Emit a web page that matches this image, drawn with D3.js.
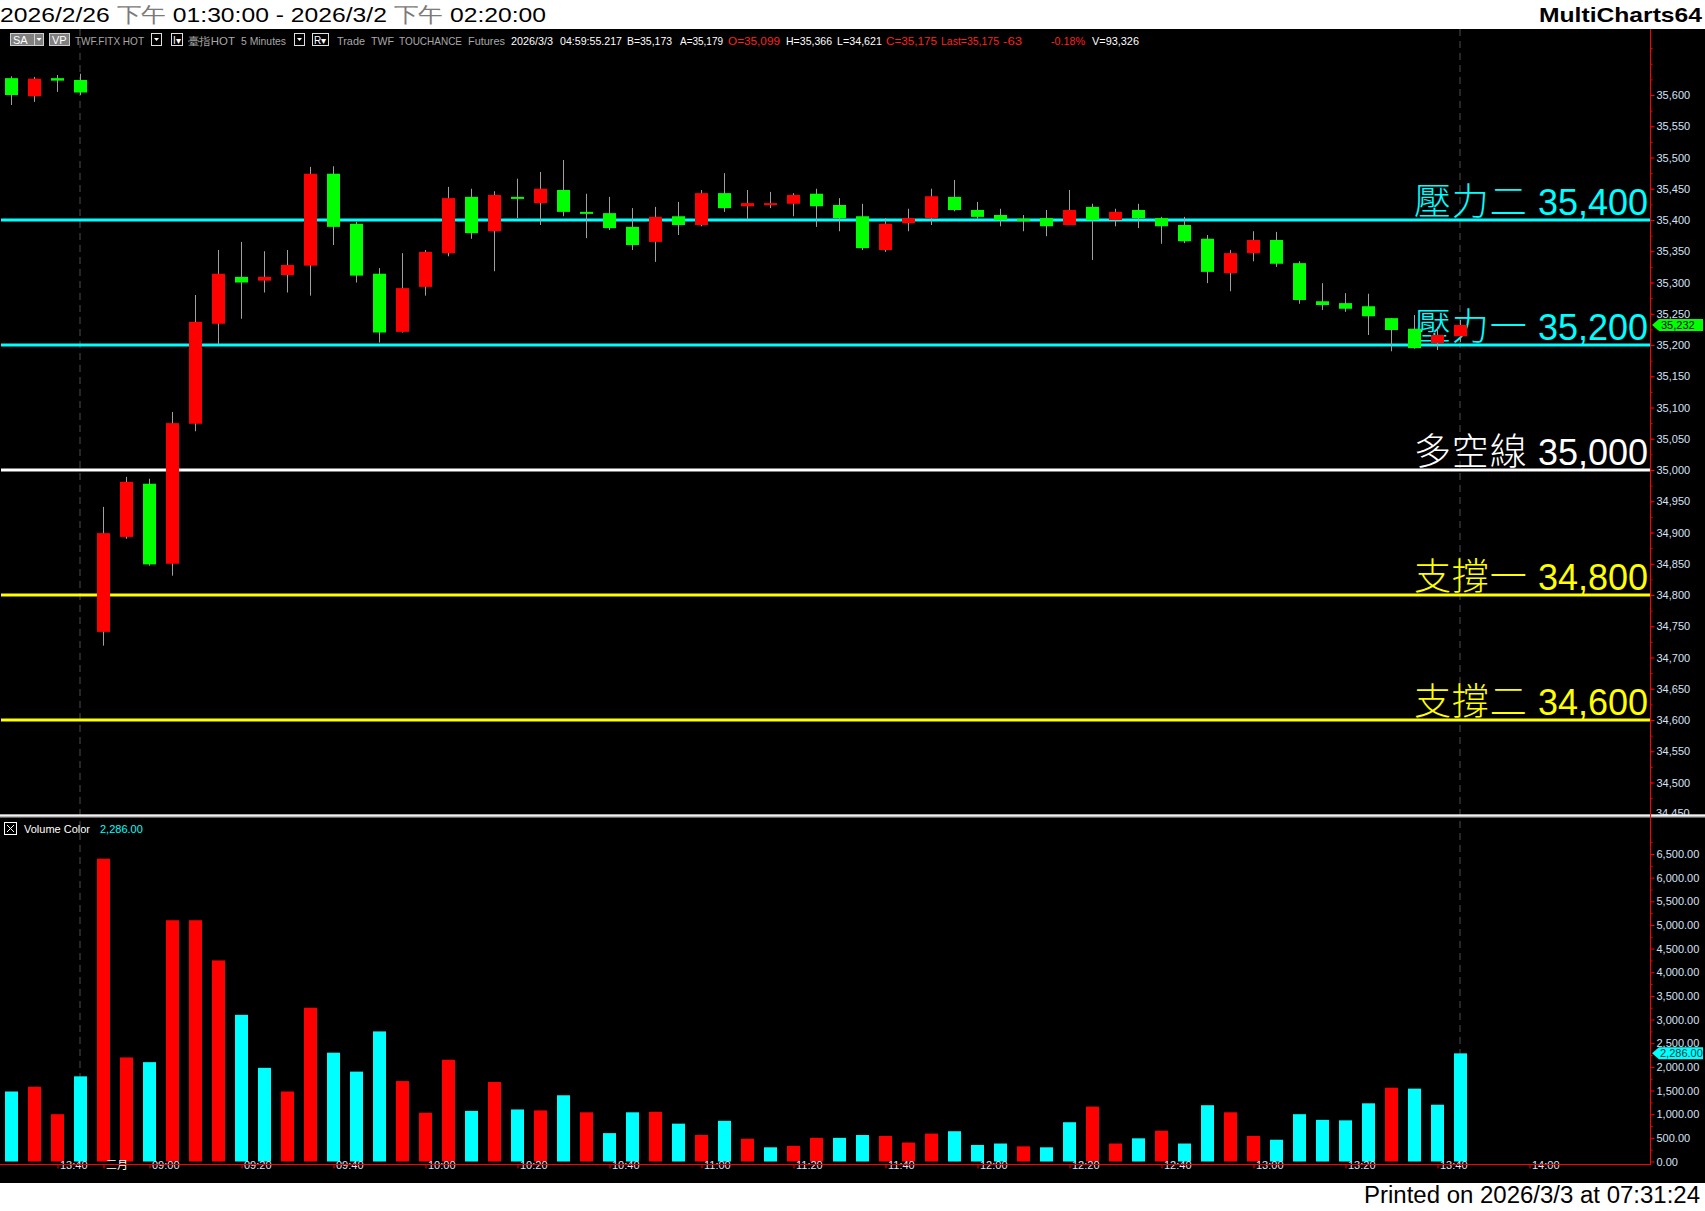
<!DOCTYPE html>
<html><head><meta charset="utf-8">
<script src="https://cdn.jsdelivr.net/npm/d3@7"></script>
<style>
html,body{margin:0;padding:0;background:#fff;}
svg{display:block;}
</style></head>
<body>
<svg id="c" width="1705" height="1211"></svg>
<script>
// ---------------- DATA ----------------
// bar slots: 4 bars of 2026/2/26 session end, then 2026/3/2 day session (5-minute bars, close time)
const firstDayTimes = ["2/26 13:30","2/26 13:35","2/26 13:40","2/26 13:45"];
const secondDayStart = "08:50";   // first bar of 3/2
const slotCount = 72;             // including empty slots to the right edge

const open  = [35627,35598,35627,35624,34741,34893,34978,34850,35074,35234,35309,35303,35312,35327,35474,35394,35314,35221,35293,35347,35437,35382,35437,35427,35448,35413,35411,35389,35365,35406,35392,35443,35422,35424,35426,35442,35424,35406,35352,35395,35403,35437,35416,35408,35402,35403,35392,35421,35400,35416,35403,35392,35370,35315,35347,35368,35331,35270,35267,35262,35243,35226,35203,35214];
const high  = [35630,35629,35632,35634,34941,34989,34986,35093,35280,35352,35365,35350,35352,35485,35486,35397,35323,35347,35352,35453,35450,35446,35466,35477,35496,35442,35437,35419,35421,35429,35448,35475,35448,35445,35443,35450,35435,35426,35403,35418,35450,35464,35429,35418,35408,35416,35448,35426,35418,35426,35405,35405,35376,35352,35382,35381,35334,35299,35283,35282,35243,35248,35229,35240];
const low   = [35584,35589,35605,35600,34719,34890,34847,34831,35062,35201,35242,35284,35284,35279,35360,35300,35204,35220,35279,35342,35370,35318,35403,35392,35406,35371,35384,35352,35333,35376,35390,35413,35400,35419,35406,35389,35382,35352,35349,35382,35392,35414,35402,35390,35382,35374,35392,35336,35390,35387,35362,35363,35299,35286,35334,35325,35266,35256,35253,35216,35190,35194,35192,35205];
const close = [35600,35626,35623,35604,34899,34981,34849,35075,35237,35314,35300,35309,35328,35474,35389,35311,35220,35291,35349,35435,35379,35440,35434,35450,35413,35410,35387,35360,35405,35392,35443,35419,35427,35427,35440,35422,35403,35355,35394,35403,35438,35416,35405,35400,35398,35390,35416,35400,35413,35403,35390,35366,35317,35347,35368,35330,35272,35264,35258,35246,35224,35195,35216,35232];

const volume = [1480,1580,1000,1800,6400,2200,2100,5100,5100,4250,3100,1980,1480,3250,2300,1900,2750,1700,1030,2150,1070,1680,1100,1080,1400,1040,600,1040,1050,800,560,860,480,300,330,500,500,560,540,400,590,640,350,380,320,300,830,1160,380,490,650,380,1190,1040,540,460,1000,880,870,1230,1560,1540,1200,2286];
// volume colour direction as shown (u = red, d = cyan)
const volDir = ["d","u","u","d","u","u","d","u","u","u",
                "d","d","u","u","d","d","d","u","u","u",
                "d","u","d","u","d","u","d","d","u","d",
                "u","d","u","d","u","u","d","d","u","u",
                "u","d","d","d","u","d","d","u","u","d",
                "u","d","d","u","u","d","d","d","d","d",
                "u","d","d","d"];

const lastPrice = 35232;
const lastVolume = 2286;

const levelNames  = ["壓力二","壓力一","多空線","支撐一","支撐二"];
const levelValues = [35400,35200,35000,34800,34600];
const levelColors = ["#00ffff","#00ffff","#ffffff","#ffff00","#ffff00"];

const priceTicks  = d3.range(34500, 35601, 50);
const volumeTicks = d3.range(0, 6501, 500);

const xTickTimes = ["2/26 13:40","3/2 08:50","3/2 09:00","3/2 09:20","3/2 09:40","3/2 10:00","3/2 10:20","3/2 10:40","3/2 11:00","3/2 11:20","3/2 11:40","3/2 12:00","3/2 12:20","3/2 12:40","3/2 13:00","3/2 13:20","3/2 13:40","3/2 14:00"];
const xTickText  = ["13:40","三月","09:00","09:20","09:40","10:00","10:20","10:40","11:00","11:20","11:40","12:00","12:20","12:40","13:00","13:20","13:40","14:00"];
const sessionBreaks = ["2/26 13:45","3/2 13:45"];

const titleParts = [["2026/2/26 ","#000"],["下午","#7a7a7a"],[" 01:30:00 - 2026/3/2 ","#000"],["下午","#7a7a7a"],[" 02:20:00","#000"]];

// build slot time categories
const times = firstDayTimes.slice();
{
  let [h,m] = secondDayStart.split(":").map(Number);
  while (times.length < slotCount) {
    times.push("3/2 " + String(h).padStart(2,"0") + ":" + String(m).padStart(2,"0"));
    m += 5; if (m >= 60) { m -= 60; h++; }
  }
}
const bars = open.map((o,i)=>({t:times[i], o, h:high[i], l:low[i], c:close[i], v:volume[i], vd:volDir[i]}));

// ---------------- LAYOUT ----------------
const W = 1705, H = 1211;
const axisX = 1650.5;
const svg = d3.select("#c");
const FONT = "'Liberation Sans', Arial, sans-serif";
const NARROW = "'Liberation Sans Narrow', 'Liberation Sans', Arial, sans-serif";
const CJK = "'Liberation Sans', 'Noto Sans CJK TC', sans-serif";

svg.append("rect").attr("width",W).attr("height",H).attr("fill","#fff");
svg.append("rect").attr("x",0).attr("y",29).attr("width",W).attr("height",1183-29).attr("fill","#000");

// scales
const x = d3.scalePoint().domain(times).range([11.5, 11.5 + 23*(slotCount-1)]);
const y = d3.scaleLinear().domain([34450, 35650]).range([813.75, 63.75]);
const yv = d3.scaleLinear().domain([0, 6500]).range([1161.5, 854]);

// ---------------- HEADER ----------------
const title = svg.append("text").attr("x",0).attr("y",22).attr("font-family",NARROW).attr("font-size",21)
  .attr("textLength",546).attr("lengthAdjust","spacingAndGlyphs");
titleParts.forEach(([s,c])=>title.append("tspan").attr("fill",c).text(s));
svg.append("text").attr("x",1702).attr("y",22).attr("text-anchor","end").attr("font-family",NARROW)
  .attr("font-weight","bold").attr("font-size",21).attr("textLength",163).attr("lengthAdjust","spacingAndGlyphs").text("MultiCharts64");
svg.append("text").attr("x",1700).attr("y",1203).attr("text-anchor","end").attr("font-family",NARROW)
  .attr("font-size",23).attr("textLength",336).attr("lengthAdjust","spacingAndGlyphs").attr("fill","#000").text("Printed on 2026/3/3 at 07:31:24");

// toolbar
const tb = svg.append("g").attr("font-family",FONT).attr("font-size",11);
function box(x0,w,label,fill){
  tb.append("rect").attr("x",x0+0.5).attr("y",33.5).attr("width",w).attr("height",12).attr("fill",fill||"#000").attr("stroke","#cfcfcf");
  if(label) tb.append("text").attr("x",x0+3).attr("y",43.5).attr("fill","#fff").text(label);
}
function arrowBox(x0){
  tb.append("rect").attr("x",x0+0.5).attr("y",33.5).attr("width",10).attr("height",12).attr("fill","#000").attr("stroke","#e0e0e0");
  tb.append("path").attr("d",`M${x0+3},38 L${x0+8},38 L${x0+5.5},41 Z`).attr("fill","#fff");
}
box(10,24,"SA","#808080"); tb.append("rect").attr("x",34.5).attr("y",33.5).attr("width",9).attr("height",12).attr("fill","#808080").attr("stroke","#cfcfcf");
tb.append("path").attr("d","M36.5,38 L41.5,38 L39,41 Z").attr("fill","#fff");
box(49,20,"VP","#808080");
function tt(x0,w,s,c){ tb.append("text").attr("x",x0).attr("y",44.5).attr("fill",c).attr("textLength",w).attr("lengthAdjust","spacingAndGlyphs").text(s); }
tt(75,69,"TWF.FITX HOT","#a8a8a8");
arrowBox(151);
tb.append("rect").attr("x",171.5).attr("y",33.5).attr("width",11).attr("height",12).attr("fill","#000").attr("stroke","#e0e0e0");
tb.append("text").attr("x",173).attr("y",43.5).attr("fill","#fff").attr("font-size",10).text("I▾");
tt(188,47,"臺指HOT","#a8a8a8");
tt(241,45,"5 Minutes","#a8a8a8");
arrowBox(294);
tb.append("rect").attr("x",312.5).attr("y",33.5).attr("width",16).attr("height",12).attr("fill","#000").attr("stroke","#e0e0e0");
tb.append("text").attr("x",314).attr("y",43.5).attr("fill","#fff").attr("font-size",10).text("R▾");
tt(337,28,"Trade","#a8a8a8");
tt(371,23,"TWF","#a8a8a8");
tt(399,63,"TOUCHANCE","#a8a8a8");
tt(468,37,"Futures","#a8a8a8");
tt(511,42,"2026/3/3","#ffffff");
tt(560,62,"04:59:55.217","#ffffff");
tt(627,45,"B=35,173","#ffffff");
tt(680,43,"A=35,179","#ffffff");
tt(728,52,"O=35,099","#ff2020");
tt(786,46,"H=35,366","#ffffff");
tt(837,45,"L=34,621","#ffffff");
tt(886,51,"C=35,175","#ff2020");
tt(941,58,"Last=35,175","#ff2020");
tt(1003,19,"-63","#ff2020");
tt(1051,34,"-0.18%","#ff2020");
tt(1092,47,"V=93,326","#ffffff");

// ---------------- SESSION BREAK LINES ----------------
svg.append("g").selectAll("line").data(sessionBreaks).join("line")
  .attr("x1",d=>x(d)-0.5).attr("x2",d=>x(d)-0.5).attr("y1",29).attr("y2",1165)
  .attr("stroke","#4d4d4d").attr("stroke-dasharray","7,5");

// ---------------- PRICE PANEL ----------------
const lv = svg.append("g");
levelValues.forEach((v,i)=>{
  const yy = Math.round(y(v));
  lv.append("rect").attr("x",1).attr("y",yy-1.5).attr("width",axisX-1).attr("height",3).attr("fill",levelColors[i]);
});

const cg = svg.append("g");
cg.selectAll("line.w").data(bars).join("line").attr("class","w")
  .attr("x1",d=>x(d.t)).attr("x2",d=>x(d.t)).attr("y1",d=>y(d.h)).attr("y2",d=>y(d.l))
  .attr("stroke","#a0a0a0").attr("stroke-width",1);
cg.selectAll("rect").data(bars).join("rect")
  .attr("x",d=>x(d.t)-6.5).attr("width",13)
  .attr("y",d=>y(Math.max(d.o,d.c)))
  .attr("height",d=>Math.max(2, y(Math.min(d.o,d.c))-y(Math.max(d.o,d.c))))
  .attr("fill",d=>d.c>=d.o?"#ff0000":"#00ff00");

// level labels (drawn over candles)
levelValues.forEach((v,i)=>{
  const yy = Math.round(y(v));
  const t = lv.append("text").attr("x",1648).attr("y",yy-5).attr("text-anchor","end")
    .attr("font-size",36).attr("font-family",CJK).attr("fill",levelColors[i]);
  t.append("tspan").attr("font-family","'Noto Sans CJK TC', sans-serif").attr("font-weight",300)
    .attr("font-size",37).attr("letter-spacing",1).text(levelNames[i]);
  t.append("tspan").text(" " + d3.format(",")(v));
});

// price axis
const pa = svg.append("g").attr("transform",`translate(${axisX},0)`);
pa.call(d3.axisRight(y).tickValues(d3.range(34475,35676,25)).tickSize(2).tickFormat(""));
pa.call(g=>g.selectAll(".tick line").attr("stroke","#ff0000"));
const pa2 = svg.append("g").attr("transform",`translate(${axisX},0)`);
pa2.call(d3.axisRight(y).tickValues(priceTicks).tickSize(4).tickPadding(2).tickFormat(d3.format(",")));
[pa,pa2].forEach(g=>{ g.select(".domain").remove(); });
pa2.selectAll(".tick line").attr("stroke","#ff0000");
pa2.selectAll(".tick text").attr("fill","#d6e2f6").attr("font-size",11).attr("font-family",FONT);

// partial clipped bottom label
svg.append("text").attr("x",1656).attr("y",817).attr("font-size",11).attr("font-family",FONT).attr("fill","#d6e2f6").text("34,450");
svg.append("rect").attr("x",1651).attr("y",816).attr("width",54).attr("height",8).attr("fill","#000");

// last price tag
const ly = y(lastPrice);
svg.append("path").attr("d",`M1652,${ly} L1659,${ly-6} L1703,${ly-6} L1703,${ly+6} L1659,${ly+6} Z`).attr("fill","#00ff00");
svg.append("text").attr("x",1661).attr("y",ly+4).attr("font-size",11).attr("font-family",FONT).attr("fill","#000").text(d3.format(",")(lastPrice));

// panel separator
svg.append("rect").attr("x",0).attr("y",814.5).attr("width",W).attr("height",3).attr("fill","#bdbdbd");
svg.append("rect").attr("x",0).attr("y",814.5).attr("width",W).attr("height",1.5).attr("fill","#f2f2f2");

// ---------------- VOLUME PANEL ----------------
svg.append("g").selectAll("rect").data(bars).join("rect")
  .attr("x",d=>x(d.t)-6.5).attr("width",13)
  .attr("y",d=>yv(d.v)).attr("height",d=>yv(0)-yv(d.v))
  .attr("fill",d=>d.vd==="u"?"#ff0000":"#00ffff");

const va = svg.append("g").attr("transform",`translate(${axisX},0)`);
va.call(d3.axisRight(yv).tickValues(d3.range(250,6751,500)).tickSize(2).tickFormat(""));
va.selectAll(".tick line").attr("stroke","#ff0000");
va.select(".domain").remove();
const va2 = svg.append("g").attr("transform",`translate(${axisX},0)`);
va2.call(d3.axisRight(yv).tickValues(volumeTicks).tickSize(4).tickPadding(2).tickFormat(d3.format(",.2f")));
va2.select(".domain").remove();
va2.selectAll(".tick line").attr("stroke","#ff0000");
va2.selectAll(".tick text").attr("fill","#d6e2f6").attr("font-size",11).attr("font-family",FONT);

// legend
svg.append("rect").attr("x",4.5).attr("y",822.5).attr("width",12).attr("height",12).attr("fill","none").attr("stroke","#fff");
svg.append("path").attr("d","M7,825 L14,832 M14,825 L7,832").attr("stroke","#fff");
svg.append("text").attr("x",24).attr("y",832.5).attr("font-size",11).attr("font-family",FONT).attr("fill","#fff").text("Volume Color");
svg.append("text").attr("x",100).attr("y",832.5).attr("font-size",11).attr("font-family",FONT).attr("fill","#00ffff").text(d3.format(",.2f")(lastVolume));

// last volume tag
const vy = yv(lastVolume);
svg.append("path").attr("d",`M1652,${vy} L1659,${vy-6} L1703,${vy-6} L1703,${vy+6} L1659,${vy+6} Z`).attr("fill","#00ffff");
svg.append("text").attr("x",1660).attr("y",vy+4).attr("font-size",11).attr("font-family",FONT).attr("fill","#003b3b").text(d3.format(",.2f")(lastVolume));

// ---------------- TIME AXIS ----------------
const xa = svg.append("g").attr("transform","translate(0,1164.5)");
xa.call(d3.axisBottom(x).tickValues(xTickTimes).tickSize(4).tickFormat((d,i)=>xTickText[i]));
xa.select(".domain").remove();
xa.selectAll(".tick line").attr("stroke","#ff0000");
xa.selectAll(".tick text").attr("text-anchor","start").attr("dx",2).attr("dy",-3)
  .attr("fill",(d,i)=>xTickText[i]==="三月"?"#ffffff":"#d6e2f6").attr("font-size",11)
  .attr("font-family",(d,i)=>xTickText[i]==="三月"?"'Noto Sans CJK TC', sans-serif":FONT);
svg.append("line").attr("x1",0).attr("x2",axisX).attr("y1",1164.5).attr("y2",1164.5).attr("stroke","#ff0000");

// axis vertical line
svg.append("line").attr("x1",axisX).attr("x2",axisX).attr("y1",29).attr("y2",1165).attr("stroke","#ff0000");
</script>
</body></html>
